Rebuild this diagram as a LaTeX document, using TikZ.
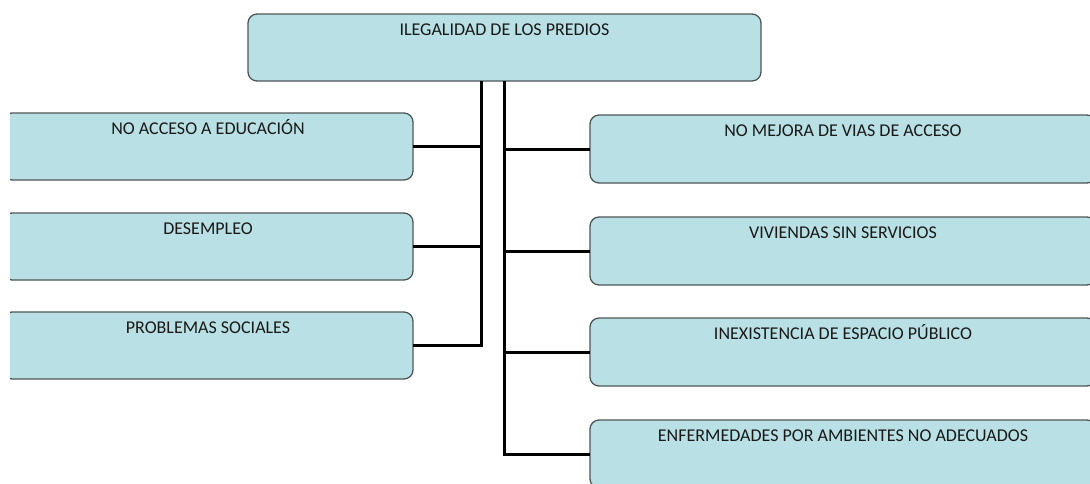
\documentclass[tikz,border=0pt]{standalone}
\usepackage{fontspec}
\setmainfont{Carlito}
\usepackage{xcolor}
\usepackage{tikz}
\usetikzlibrary{positioning}
\definecolor{boxfill}{RGB}{185,224,228}
\definecolor{boxline}{RGB}{78,86,88}
\tikzset{
	box/.style = {draw=boxline, fill=boxfill, line width=1.3pt, rounded corners=9pt, inner sep=0, outer sep=0, text height=21pt, text depth=46pt, text=black!90, font=\fontsize{18}{20}\selectfont},
	root/.style = {box, minimum width=513pt},
	cause/.style = {box, minimum width=410pt},
	effect/.style = {box, minimum width=506pt, text depth=47pt},
	link/.style = {draw=black, line width=3pt}
}

\begin{document}
\begin{tikzpicture}[x=1pt, y=-1pt]
	\useasboundingbox (0,0) rectangle (1090,483);
	\clip (10,0) rectangle (1090,483);
	
	\node [root] (top) at (504.5,47.5) {ILEGALIDAD DE LOS PREDIOS};
	
	% left side
	\node [cause] (c1) at (208,146.5) {NO ACCESO A EDUCACIÓN};
	\node [cause] [below=33pt of c1] (c2) {DESEMPLEO};
	\node [cause] [below=32pt of c2] (c3) {PROBLEMAS SOCIALES};
	
	% right side
	\node [effect] (e1) at (843,149) {NO MEJORA DE VIAS DE ACCESO};
	\node [effect] [below=34pt of e1] (e2) {VIVIENDAS SIN SERVICIOS};
	\node [effect] [below=33pt of e2] (e3) {INEXISTENCIA DE ESPACIO PÚBLICO};
	\node [effect] [below=34pt of e3] (e4) {ENFERMEDADES POR AMBIENTES NO ADECUADOS};
	
	\coordinate (lsplit) at ([xshift=-23pt]top.south);
	\coordinate (rsplit) at (top.south);
	
	\draw [link] (lsplit) |- (c3.east);
	\draw [link] (lsplit |- c1.east) -- (c1.east);
	\draw [link] (lsplit |- c2.east) -- (c2.east);
	
	\draw [link] (rsplit) |- (e4.west);
	\draw [link] (rsplit |- e1.west) -- (e1.west);
	\draw [link] (rsplit |- e2.west) -- (e2.west);
	\draw [link] (rsplit |- e3.west) -- (e3.west);
\end{tikzpicture}
\end{document}
